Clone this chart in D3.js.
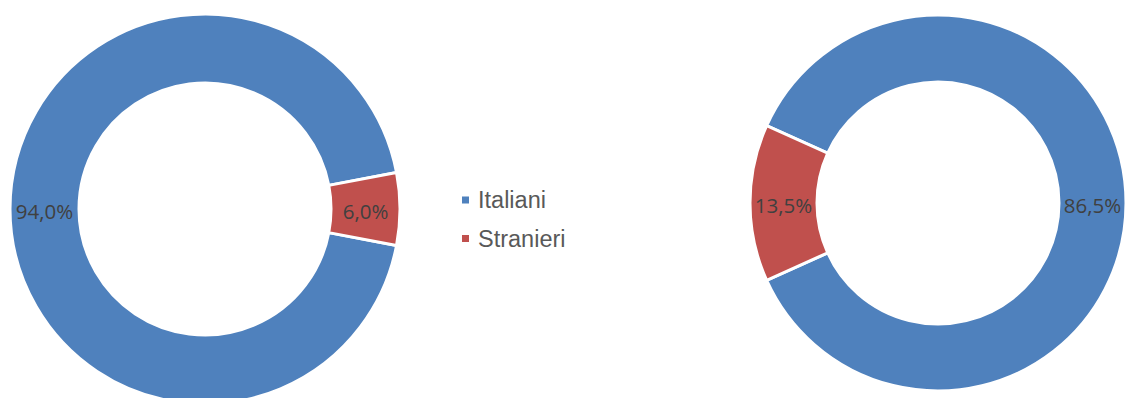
<!DOCTYPE html>
<html>
<head>
<meta charset="utf-8">
<script src="https://cdn.jsdelivr.net/npm/d3@7/dist/d3.min.js"></script>
<style>
  html, body { margin: 0; padding: 0; background: #ffffff; }
  svg { display: block; }
</style>
</head>
<body>
<svg id="chart" width="1126" height="398"></svg>
<script>
// Population shares (percent) for two groups, shown as two donuts
const categories = ["Italiani", "Stranieri"];
const leftValues = [94.0, 6.0];
const rightValues = [86.5, 13.5];
const colors = ["#4F81BD", "#C0504D"];

const svg = d3.select("#chart");
const fmt = v => d3.format(".1f")(v).replace(".", ",") + "%";
const color = d3.scaleOrdinal().domain(categories).range(colors);

// Draw one donut; the "Stranieri" slice is centred on redCenterDeg
function donut(values, cx, cy, rOuter, rInner, redCenterDeg) {
  const total = d3.sum(values);
  const redSpan = 2 * Math.PI * values[1] / total;
  const start = redCenterDeg * Math.PI / 180 + redSpan / 2;
  const pie = d3.pie().sort(null).value(d => d.v)
    .startAngle(start).endAngle(start + 2 * Math.PI);
  const data = pie(categories.map((c, i) => ({ c, v: values[i] })));
  const arc = d3.arc().innerRadius(rInner).outerRadius(rOuter);
  const g = svg.append("g").attr("transform", `translate(${cx},${cy})`);
  g.selectAll("path").data(data).join("path")
    .attr("d", arc)
    .attr("fill", d => color(d.data.c))
    .attr("stroke", "#ffffff")
    .attr("stroke-width", 3)
    .attr("stroke-linejoin", "miter");
  g.selectAll("text").data(data).join("text")
    .attr("transform", d => `translate(${arc.centroid(d)})`)
    .attr("text-anchor", "middle")
    .attr("dy", "0.5em")
    .attr("font-family", "'Open Sans', 'DejaVu Sans Condensed', sans-serif")
    .attr("font-size", 20.5)
    .attr("fill", "#404040")
    .text(d => fmt(d.data.v));
}

donut(leftValues, 205, 209, 195, 126, 90);
donut(rightValues, 938, 203, 188, 121, 270);

// Legend
const legend = svg.append("g").attr("transform", "translate(462,0)");
const rows = legend.selectAll("g").data(categories).join("g")
  .attr("transform", (d, i) => `translate(0,${200 + i * 38.5})`);
rows.append("rect")
  .attr("x", 0).attr("y", -3.5)
  .attr("width", 7).attr("height", 7)
  .attr("fill", d => color(d));
rows.append("text")
  .attr("x", 16).attr("dy", "0.36em")
  .attr("font-family", "'Liberation Sans', Arial, sans-serif")
  .attr("font-size", 23.5)
  .attr("fill", "#595959")
  .text(d => d);
</script>
</body>
</html>
